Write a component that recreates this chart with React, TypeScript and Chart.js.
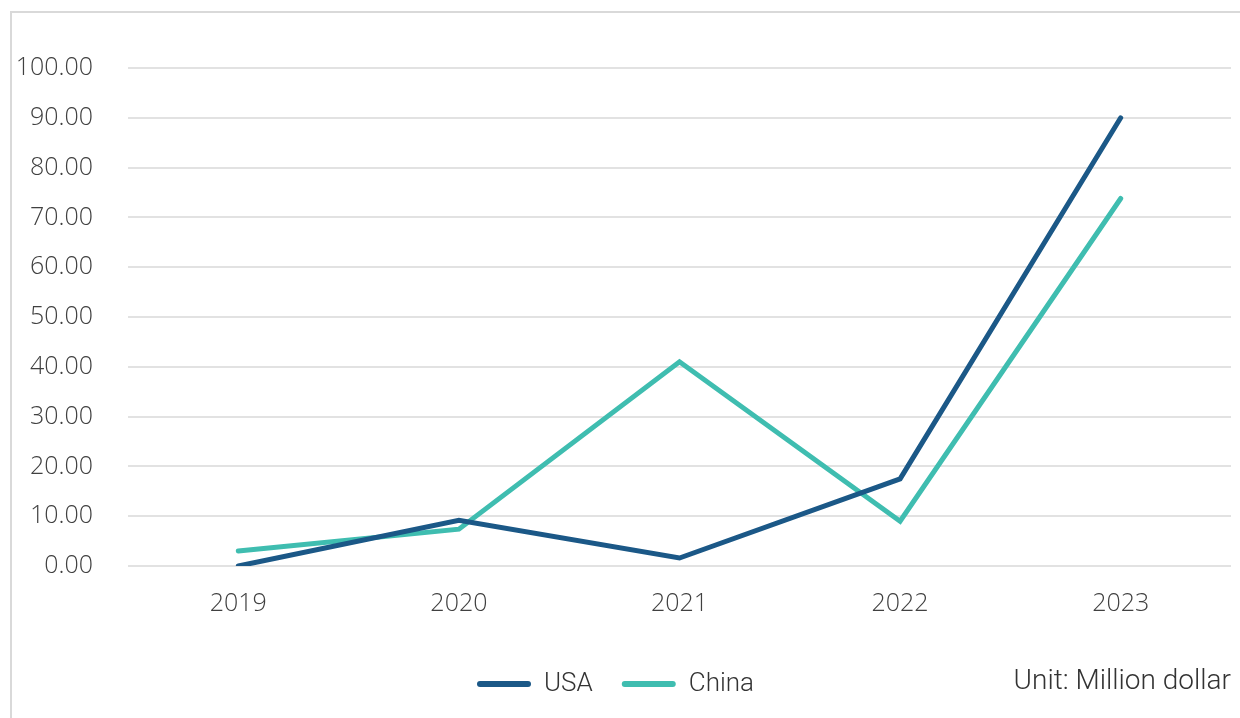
import React, { useEffect, useRef } from "react";
import { Chart, registerables } from "chart.js";

Chart.register(...registerables);

const categories = ["2019", "2020", "2021", "2022", "2023"];
const usaValues = [0, 9.2, 1.6, 17.5, 90];
const chinaValues = [3.0, 7.4, 41, 9.0, 73.8];
const seriesNames = ["USA", "China"];
const unitLabel = "Unit: Million dollar";

const USA_COLOR = "#1b5887";
const CHINA_COLOR = "#3fbdb0";

export default function App() {
  const ref = useRef<HTMLCanvasElement | null>(null);

  useEffect(() => {
    if (!ref.current) return;
    const chart = new Chart(ref.current, {
      type: "line",
      data: {
        labels: categories,
        datasets: [
          {
            label: seriesNames[0],
            data: usaValues,
            borderColor: USA_COLOR,
            backgroundColor: USA_COLOR,
            borderWidth: 5,
            pointRadius: 0,
            borderCapStyle: "round",
            borderJoinStyle: "miter",
            tension: 0,
          },
          {
            label: seriesNames[1],
            data: chinaValues,
            borderColor: CHINA_COLOR,
            backgroundColor: CHINA_COLOR,
            borderWidth: 5,
            pointRadius: 0,
            borderCapStyle: "round",
            borderJoinStyle: "miter",
            tension: 0,
          },
        ],
      },
      options: {
        responsive: false,
        animation: false,
        layout: { padding: { top: 68, right: 9, left: 0, bottom: 11 } },
        plugins: {
          tooltip: { enabled: false },
          legend: {
            position: "bottom",
            labels: {
              font: { family: "Roboto", size: 26, weight: "300" },
              color: "#333333",
              boxWidth: 54,
              boxHeight: 6,
              useBorderRadius: true,
              borderRadius: 3,
              padding: 29,
              generateLabels: (c: any) =>
                c.data.datasets.map((ds: any, i: number) => ({
                  text: ds.label,
                  fillStyle: ds.borderColor,
                  strokeStyle: ds.borderColor,
                  lineWidth: 0,
                  borderRadius: 3,
                  datasetIndex: i,
                  hidden: false,
                  fontColor: "#333333",
                })),
            },
          },
        },
        scales: {
          x: {
            type: "category",
            offset: true,
            grid: { display: false, drawTicks: false },
            border: { display: false },
            ticks: {
              padding: 23,
              color: "#404040",
              font: { family: "Open Sans", size: 25, weight: "300" },
            },
          },
          y: {
            min: 0,
            max: 100,
            ticks: {
              stepSize: 10,
              padding: 35,
              color: "#404040",
              font: { family: "Open Sans", size: 25, weight: "300" },
              callback: (v: any) => Number(v).toFixed(2),
            },
            grid: { color: "#e2e2e2", lineWidth: 2, drawTicks: false },
            border: { display: false },
            afterFit: (s: any) => {
              s.width = 128;
            },
          },
        },
      },
    });
    return () => chart.destroy();
  }, []);

  return (
    <div
      style={{
        position: "fixed",
        left: 0,
        top: 0,
        width: 1240,
        height: 718,
        background: "#ffffff",
        overflow: "hidden",
      }}
    >
      <div
        style={{
          position: "absolute",
          left: 10,
          top: 11,
          width: 1260,
          height: 740,
          border: "2px solid #d9d9d9",
          boxSizing: "border-box",
        }}
      />
      <canvas
        ref={ref}
        width={1240}
        height={718}
        style={{ position: "absolute", left: 0, top: 0 }}
      />
      <div
        style={{
          position: "absolute",
          right: 9,
          top: 662,
          fontFamily: "Roboto",
          fontWeight: 300,
          fontSize: 28,
          color: "#333333",
          lineHeight: "36px",
          whiteSpace: "nowrap",
        }}
      >
        {unitLabel}
      </div>
    </div>
  );
}
